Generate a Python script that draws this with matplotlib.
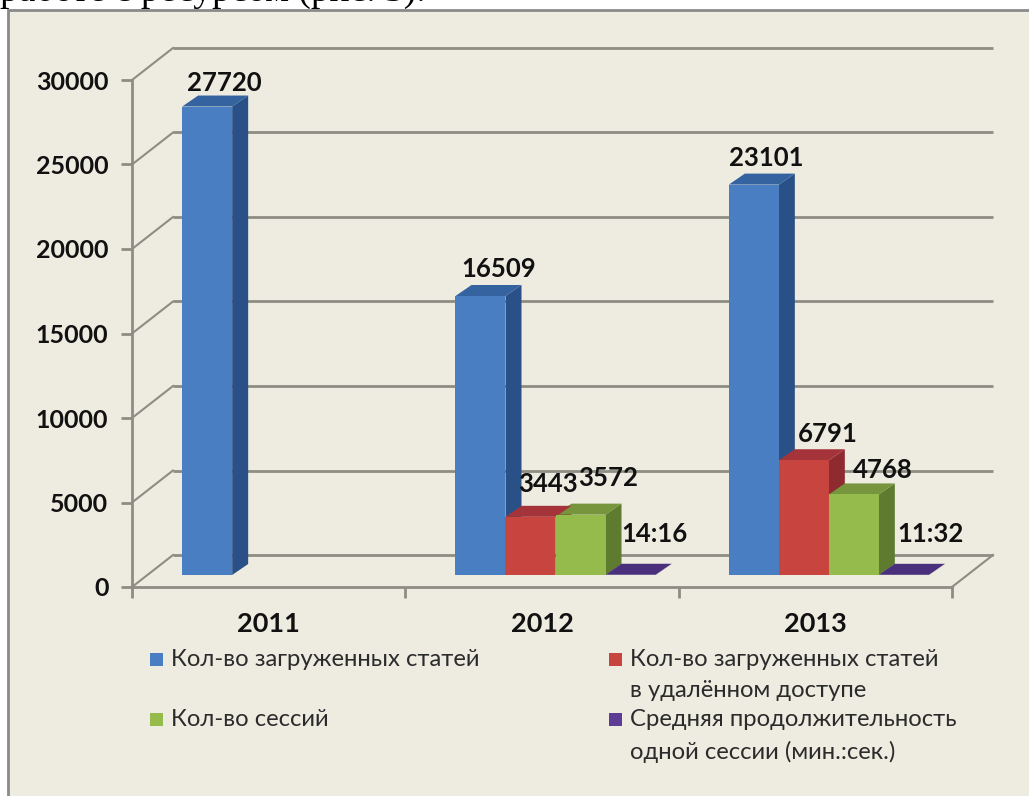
import numpy as np
import matplotlib
matplotlib.use('Agg')
import matplotlib.pyplot as plt
from matplotlib.patches import Rectangle

# yearly usage of the e-resource
years = ['2011', '2012', '2013']
downloads = [27720, 16509, 23101]
remote_downloads = [np.nan, 3443, 6791]
sessions = [np.nan, 3572, 4768]
duration_labels = [None, '14:16', '11:32']
duration_minutes = [np.nan, 14 + 16 / 60, 11 + 32 / 60]

series_names = ['Кол-во загруженных статей',
                'Кол-во загруженных статей\nв удалённом доступе',
                'Кол-во сессий',
                'Средняя продолжительность\nодной сессии (мин.:сек.)']
yticks = [0, 5000, 10000, 15000, 20000, 25000, 30000]

W, H = 1029, 796
FRONT = ['#4a7ec2', '#c8453f', '#94bb4c', '#5c3c94']
SIDE = ['#2a5088', '#8e2a30', '#5f7b30', '#3e2768']
TOP = ['#34639f', '#a5333a', '#76953c', '#4a2f7c']
GRID = '#8d8d84'
PANEL = '#eeece1'
LABEL_FONT = ['Lato', 'Open Sans', 'DejaVu Sans']

fig = plt.figure(figsize=(W / 100, H / 100), dpi=100, facecolor='white')

# line of body text running into the top of the chart panel
fig.text(0.0, 1 - 1 / H, 'работе с ресурсом (рис. 3).', family='Liberation Serif',
         fontsize=27, va='baseline', ha='left', zorder=0, color='black')
fig.add_artist(Rectangle((8 / W, -0.1), 1.1, 1.1 - 10 / H, transform=fig.transFigure,
                         facecolor=PANEL, edgecolor='#8a8a8a', linewidth=2, zorder=1))

ax = fig.add_axes([132 / W, 1 - 587 / H, 820 / W, 507 / H], zorder=2)
ax.patch.set_visible(False)
ax.set_xlim(0, 3)
ax.set_ylim(0, 30000)

# pixels to data units, for the oblique depth of the 3d look
DX = 3 / 820
DY = 30000 / 507

for s in ['top', 'right']:
    ax.spines[s].set_visible(False)
for s in ['left', 'bottom']:
    ax.spines[s].set_color(GRID)
    ax.spines[s].set_linewidth(2)

ax.set_yticks(yticks)
ax.set_yticklabels([str(t) for t in yticks], fontweight='bold', fontsize=18,
                   family=LABEL_FONT, color='#111111')
ax.set_xticks([0, 1, 2, 3])
ax.set_xticklabels([])
ax.set_xticks([0.5, 1.5, 2.5], minor=True)
ax.set_xticklabels(years, minor=True, fontweight='bold', fontsize=19.5,
                   family=LABEL_FONT, color='#111111')
ax.tick_params(axis='x', which='minor', length=0, pad=18)
ax.tick_params(axis='both', which='major', length=8, width=2, color=GRID)
ax.tick_params(axis='y', pad=9)

# back wall gridlines and their run along the left wall
wall_dx, wall_dy = 41 * DX, 32 * DY
for t in yticks:
    ax.plot([wall_dx, 3 + wall_dx], [t + wall_dy, t + wall_dy], color=GRID, lw=2,
            clip_on=False, zorder=1, solid_capstyle='butt')
    ax.plot([0, wall_dx], [t, t + wall_dy], color=GRID, lw=1.5, clip_on=False, zorder=1)
ax.plot([3, 3 + wall_dx], [0, wall_dy], color=GRID, lw=1.5, clip_on=False, zorder=1)

# bars stand on the middle of the floor
bar_w = 50 * DX
depth_x, depth_y = 16 * DX, 11 * DY
base = 12 * DY
shift = 13.5 * DX
series = [downloads, remote_downloads, sessions, duration_minutes]


def draw_bar(x0, value, i, z):
    x1 = x0 + bar_w
    top = base + value
    ax.bar(x0, value, bar_w, bottom=base, align='edge', color=FRONT[i], clip_on=False, zorder=z + 0.2)
    ax.fill([x1, x1 + depth_x, x1 + depth_x, x1], [base, base + depth_y, top + depth_y, top],
            color=SIDE[i], clip_on=False, zorder=z, lw=0)
    ax.fill([x0, x1, x1 + depth_x, x0 + depth_x], [top, top, top + depth_y, top + depth_y],
            color=TOP[i], clip_on=False, zorder=z + 0.1, lw=0)


for k in range(len(years)):
    left = k + 0.5 + shift - 2 * bar_w
    for i, vals in enumerate(series):
        if not np.isnan(vals[k]):
            draw_bar(left + i * bar_w, vals[k], i, 5 + k - i * 0.01)


# value labels: offsets in pixels from the front top centre of each bar
def value_label(k, i, text, nudge_x, nudge_y):
    x = k + 0.5 + shift - 2 * bar_w + (i + 0.5) * bar_w
    y = base + series[i][k]
    ax.annotate(text, (x, y), xytext=(nudge_x * 0.72, nudge_y * 0.72), textcoords='offset points',
                ha='center', va='center', fontweight='bold', fontsize=18.5,
                family=LABEL_FONT, color='#111111', zorder=20, annotation_clip=False)


value_label(0, 0, str(downloads[0]), 17, 24)
value_label(1, 0, str(downloads[1]), 18, 27)
value_label(2, 0, str(downloads[2]), 12, 27)
value_label(1, 1, str(remote_downloads[1]), 18, 33)
value_label(2, 1, str(remote_downloads[2]), 24, 26)
value_label(1, 2, str(sessions[1]), 28, 37)
value_label(2, 2, str(sessions[2]), 29, 24)
value_label(1, 3, duration_labels[1], 24, 41)
value_label(2, 3, duration_labels[2], 27, 41)

# legend set out by hand in two columns
legend_at = [(150, 653), (609, 653), (150, 713), (609, 713)]
for i, name in enumerate(series_names):
    px, py = legend_at[i]
    fig.add_artist(Rectangle((px / W, 1 - (py + 13) / H), 13 / W, 13 / H,
                             transform=fig.transFigure, facecolor=FRONT[i], edgecolor='none', zorder=3))
    fig.text((px + 21) / W, 1 - (py - 4) / H, name, fontsize=17.2, family=LABEL_FONT,
             color='#2b2b2b', va='top', ha='left', linespacing=1.6, zorder=3)

fig.savefig('out.png', dpi=100)
